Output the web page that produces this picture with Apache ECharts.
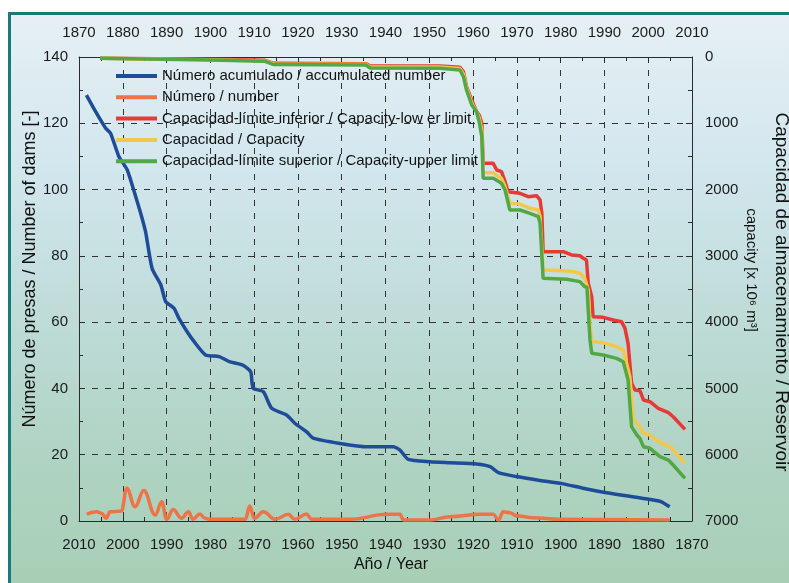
<!DOCTYPE html>
<html>
<head>
<meta charset="utf-8">
<title>Presas</title>
<script src="https://cdn.jsdelivr.net/npm/echarts@6/dist/echarts.min.js"></script>
<style>
  html, body { margin: 0; padding: 0; background: #ffffff; }
  #chart { width: 789px; height: 583px; }
</style>
</head>
<body>
<div id="chart"></div>
<script>
// Accumulated number of dams (bottom axis, reversed years)
const accumYears = [2008.3, 2006.2, 2003.9, 2002.8, 2000.9, 1999.0, 1997.4, 1995.9, 1994.8, 1993.3,
  1991.3, 1990.2, 1988.3, 1987.2, 1985.3, 1983.7, 1981.1, 1978.0, 1975.7, 1972.7,
  1970.8, 1970.5, 1970.2, 1967.9, 1966.0, 1962.6, 1960.7, 1958.0, 1956.5, 1950.4,
  1944.3, 1938.2, 1936.7, 1934.8, 1929.8, 1925.3, 1919.2, 1916.1, 1914.2, 1910.1,
  1904.7, 1899.4, 1894.9, 1889.5, 1885.0, 1879.6, 1877.0, 1875.1];
const accumValues = [128.5, 123.5, 118.5, 117.0, 110.0, 106.0, 99.4, 92.8, 87.3, 76.2,
  71.2, 66.2, 64.2, 61.2, 57.1, 54.1, 50.1, 49.6, 48.1, 47.1,
  45.1, 42.0, 40.0, 39.0, 34.0, 32.0, 29.5, 26.9, 25.0, 23.4,
  22.4, 22.4, 21.4, 18.6, 17.9, 17.6, 17.2, 16.4, 14.6, 13.4,
  12.2, 11.2, 9.9, 8.5, 7.6, 6.5, 5.8, 4.3];

// Dams per year (bottom axis, reversed years)
const countYears = [2008.2, 2006.0, 2004.8, 2003.8, 2002.9, 2000.3, 1999.1, 1997.2, 1995.2, 1992.6,
  1991.1, 1990.0, 1988.5, 1986.6, 1985.0, 1984.0, 1982.4, 1981.2, 1980.0, 1972.0,
  1971.0, 1970.0, 1967.9, 1965.2, 1962.2, 1960.7, 1958.0, 1956.9, 1948.0, 1939.8,
  1936.7, 1935.9, 1929.8, 1925.3, 1918.4, 1915.4, 1914.2, 1913.1, 1911.6, 1910.1,
  1906.3, 1900.2, 1875.1];
const countValues = [2.1, 2.8, 2.3, 0.8, 2.8, 3.0, 9.9, 4.3, 9.2, 1.8,
  5.8, 0.5, 3.5, 0.8, 2.8, 0.5, 2.1, 0.8, 0.5, 0.5,
  4.5, 0.8, 2.8, 0.5, 2.0, 0.5, 2.1, 0.5, 0.5, 2.0,
  2.0, 0.3, 0.3, 1.3, 2.0, 2.0, 0.3, 2.8, 2.5, 1.6,
  1.0, 0.5, 0.3];

// Storage capacity, lower limit (top axis, x 10^6 m3)
const lowerYears = [1874.8, 1900.0, 1912.5, 1914.5, 1935.5, 1936.5, 1952.4, 1957.0, 1957.8, 1958.5,
  1959.7, 1960.8, 1961.4, 1962.0, 1962.3, 1964.6, 1965.4, 1966.5, 1967.3, 1968.0,
  1970.7, 1972.6, 1974.5, 1975.3, 1975.7, 1976.0, 1980.6, 1982.5, 1984.4, 1985.2,
  1985.9, 1986.3, 1987.1, 1987.4, 1989.7, 1992.0, 1993.9, 1994.7, 1995.4, 1996.2,
  1997.0, 1998.1, 1998.5, 1998.9, 2000.4, 2002.3, 2004.6, 2005.7, 2008.4];
const lowerValues = [20, 35, 50, 95, 100, 136, 136, 155, 220, 448,
  649, 825, 875, 1000, 1604, 1604, 1705, 1730, 1881, 2032,
  2056, 2108, 2092, 2157, 2358, 2937, 2937, 2987, 2998, 3037,
  3063, 3414, 3616, 3918, 3928, 3968, 3993, 4093, 4320, 4923,
  5024, 5034, 5099, 5175, 5200, 5300, 5366, 5427, 5617];

// Storage capacity, central estimate
const capYears = [1874.8, 1900.0, 1912.5, 1914.5, 1935.5, 1936.5, 1952.4, 1957.0, 1957.8, 1958.5,
  1959.7, 1960.8, 1961.4, 1962.0, 1962.3, 1964.6, 1965.7, 1966.5, 1967.3, 1968.4,
  1970.7, 1973.0, 1974.9, 1975.3, 1976.0, 1980.6, 1982.9, 1984.4, 1985.5, 1986.3,
  1986.7, 1987.1, 1989.7, 1992.8, 1994.3, 1995.8, 1996.6, 1997.4, 1998.1, 1998.9,
  2000.4, 2002.3, 2004.6, 2005.7, 2008.4];
const capValues = [20, 40, 60, 105, 110, 150, 150, 175, 255, 470,
  690, 825, 920, 1100, 1745, 1745, 1805, 1830, 1956, 2207,
  2218, 2283, 2308, 2409, 3213, 3223, 3239, 3263, 3339, 3515,
  4017, 4295, 4310, 4371, 4420, 4823, 5476, 5526, 5577, 5677,
  5702, 5803, 5868, 5929, 6129];

// Storage capacity, upper limit
const upperYears = [1874.8, 1900.0, 1912.5, 1914.5, 1935.5, 1936.5, 1952.4, 1957.0, 1957.8, 1958.5,
  1959.7, 1960.8, 1961.4, 1962.0, 1962.3, 1964.6, 1966.5, 1967.3, 1968.4, 1970.7,
  1973.0, 1974.9, 1975.3, 1976.0, 1981.4, 1984.4, 1985.5, 1986.0, 1986.7, 1987.1,
  1989.7, 1992.8, 1994.3, 1995.4, 1996.2, 1997.4, 1998.1, 1998.9, 2000.4, 2002.7,
  2004.6, 2005.7, 2008.4];
const upperValues = [20, 45, 65, 115, 120, 165, 170, 196, 297, 498,
  724, 825, 976, 1202, 1830, 1830, 1906, 2006, 2308, 2308,
  2358, 2409, 2509, 3339, 3354, 3389, 3465, 3470, 4269, 4470,
  4496, 4546, 4597, 4873, 5577, 5702, 5753, 5879, 5903, 6030,
  6080, 6155, 6356];

const seriesNames = [
  'Número acumulado / accumulated number',
  'Número / number',
  'Capacidad-límite inferior / Capacity-low er limit',
  'Capacidad / Capacity',
  'Capacidad-límite superior / Capacity-upper limit'
];
const seriesColors = ['#1f4c98', '#ec7447', '#e63a36', '#f3c84a', '#52a845'];

const yearMin = 1870, yearMax = 2010;
const damsMax = 140, capMax = 7000;

const xTitle = 'Año / Year';
const leftTitle = 'Número de presas / Number of dams [-]';
const rightTitle1 = 'Capacidad de almacenamiento / Reservoir';
const rightTitle2 = 'capacity [x 10⁶ m³]';

function pairs(xs, ys) { return xs.map((x, i) => [x, ys[i]]); }

const FONT = 'Liberation Sans, Arial, sans-serif';
const chart = echarts.init(document.getElementById('chart'), null, { renderer: 'canvas' });

const axisLineStyle = { color: '#2b2b2b', width: 1 };
const tickStyle = { show: true, inside: true, length: 6, lineStyle: { color: '#2b2b2b' } };
const minorStyle = { show: true, splitNumber: 2, length: 4, lineStyle: { color: '#2b2b2b' } };
const labelText = { color: '#1a1a1a', fontSize: 15, fontFamily: FONT, formatter: v => String(v) };
const dashed = { show: true, lineStyle: { color: '#333333', type: [6, 7], width: 1 } };

function lineSeries(i, data, xi, yi, extra) {
  return Object.assign({
    name: seriesNames[i], type: 'line', data: data,
    xAxisIndex: xi, yAxisIndex: yi,
    showSymbol: false, symbol: 'none',
    lineStyle: { color: seriesColors[i], width: 3.5 },
    itemStyle: { color: seriesColors[i] },
    z: 3 + i, animation: false
  }, extra || {});
}

function title(text, x, y, rot, size) {
  return {
    type: 'text', x: x, y: y, rotation: rot, silent: true, z: 10,
    style: { text: text, fill: '#111', font: size + 'px ' + FONT, align: 'center', verticalAlign: 'middle' }
  };
}

chart.setOption({
  backgroundColor: '#ffffff',
  animation: false,
  graphic: [{
    type: 'rect', z: -100, silent: true,
    shape: { x: 9.5, y: 13.5, width: 800, height: 600 },
    style: {
      fill: new echarts.graphic.LinearGradient(0, 0, 0, 1, [
        { offset: 0, color: '#e6f0f4' },
        { offset: 0.25, color: '#d3e7ee' },
        { offset: 0.5, color: '#bfdcd9' },
        { offset: 0.75, color: '#afd3c2' },
        { offset: 1, color: '#a6ceb2' }
      ]),
      stroke: '#1b7a77', lineWidth: 3
    }
  },
  title(xTitle, 391, 565, 0, 16),
  title(leftTitle, 30, 269, Math.PI / 2, 18),
  title(rightTitle1, 781, 292, -Math.PI / 2, 19),
  title(rightTitle2, 751, 270, -Math.PI / 2, 15)
  ],
  legend: {
    orient: 'vertical', left: 116, top: 68, padding: 0,
    itemWidth: 41, itemHeight: 4, itemGap: 5.3,
    icon: 'rect',
    textStyle: { color: '#111', fontSize: 15, fontFamily: FONT, lineHeight: 16 },
    data: seriesNames
  },
  grid: { left: 79, right: 97, top: 57, bottom: 62, show: false },
  xAxis: [{
    type: 'value', position: 'bottom', inverse: true,
    min: yearMin, max: yearMax, interval: 10,
    axisLine: { show: true, lineStyle: axisLineStyle },
    axisTick: tickStyle, minorTick: minorStyle,
    axisLabel: Object.assign({ margin: 16 }, labelText),
    splitLine: dashed
  }, {
    type: 'value', position: 'top',
    min: yearMin, max: yearMax, interval: 10,
    axisLine: { show: true, lineStyle: axisLineStyle },
    axisTick: tickStyle, minorTick: minorStyle,
    axisLabel: Object.assign({ margin: 17 }, labelText),
    splitLine: { show: false }
  }],
  yAxis: [{
    type: 'value', position: 'left',
    min: 0, max: damsMax, interval: 20,
    axisLine: { show: true, lineStyle: axisLineStyle },
    axisTick: tickStyle, minorTick: minorStyle,
    axisLabel: Object.assign({ margin: 11 }, labelText),
    splitLine: dashed
  }, {
    type: 'value', position: 'right', inverse: true,
    min: 0, max: capMax, interval: 1000,
    axisLine: { show: true, lineStyle: axisLineStyle },
    axisTick: tickStyle, minorTick: minorStyle,
    axisLabel: Object.assign({ margin: 13 }, labelText),
    splitLine: { show: false }
  }],
  series: [
    lineSeries(0, pairs(accumYears, accumValues), 0, 0, { smooth: 0.2 }),
    lineSeries(1, pairs(countYears, countValues), 0, 0, { smooth: 0.4, smoothMonotone: 'x' }),
    lineSeries(2, pairs(lowerYears, lowerValues), 1, 1),
    lineSeries(3, pairs(capYears, capValues), 1, 1),
    lineSeries(4, pairs(upperYears, upperValues), 1, 1)
  ]
});
</script>
</body>
</html>
